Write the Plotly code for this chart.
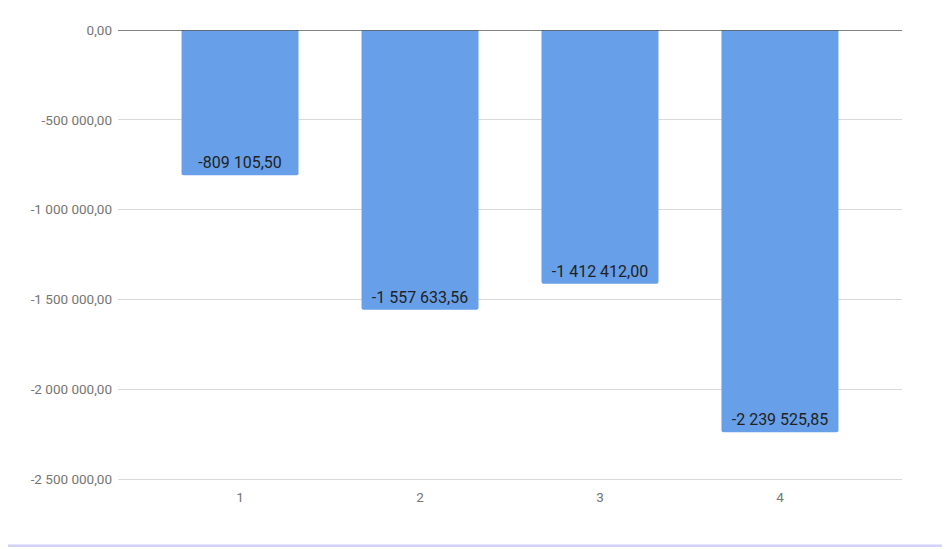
import plotly.graph_objects as go

categories = ["1", "2", "3", "4"]
values = [-809105.50, -1557633.56, -1412412.00, -2239525.85]
tick_vals = [0, -500000, -1000000, -1500000, -2000000, -2500000]
tick_text = ["0,00", "-500 000,00", "-1 000 000,00", "-1 500 000,00", "-2 000 000,00", "-2 500 000,00"]

W, H = 950, 549
OFF = 8  # page body margin
ML, MR, MT, MB = 110, 56, 22, 78
PW, PH = W - ML - MR, H - MT - MB


def px2paper(sx, sy):
    x, y = sx - OFF, sy - OFF
    return (x - ML) / PW, (H - MB - y) / PH


def rounded_rect(x0, y0, x1, y1, r):
    def P(x, y):
        px, py = px2paper(x, y)
        return f"{px:.5f},{py:.5f}"
    d = f"M {P(x0 + r, y0)} L {P(x1 - r, y0)} Q {P(x1, y0)} {P(x1, y0 + r)} "
    d += f"L {P(x1, y1 - r)} Q {P(x1, y1)} {P(x1 - r, y1)} "
    d += f"L {P(x0 + r, y1)} Q {P(x0, y1)} {P(x0, y1 - r)} "
    d += f"L {P(x0, y0 + r)} Q {P(x0, y0)} {P(x0 + r, y0)} Z"
    return d


fig = go.Figure()
fig.add_trace(go.Bar(
    x=[1, 2, 3, 4],
    y=values,
    width=0.65,
    marker=dict(color="#67a0e8", line=dict(width=0)),
    text=[f"{v:,.2f}".replace(",", " ").replace(".", ",") for v in values],
    textposition="inside",
    insidetextanchor="end",
    textfont=dict(family="Roboto", size=16, color="#222222"),
    textangle=0,
    hoverinfo="skip",
))

fig.add_shape(type="path", xref="paper", yref="paper",
              path=rounded_rect(1.5, -12, 946.5, 547, 7),
              fillcolor="#d2d2fa", line=dict(width=0), layer="below")
fig.add_shape(type="path", xref="paper", yref="paper",
              path=rounded_rect(1.5, -12, 945.5, 544.5, 6),
              fillcolor="white", line=dict(width=1, color="#e6e6fb"), layer="below")

fig.update_layout(
    width=W, height=H,
    margin=dict(l=ML, r=MR, t=MT, b=MB),
    paper_bgcolor="white",
    plot_bgcolor="rgba(0,0,0,0)",
    showlegend=False,
    barcornerradius=2,
    font=dict(family="Roboto", color="#757575", size=13.5),
    xaxis=dict(
        range=[0.322, 4.678],
        tickvals=[1, 2, 3, 4],
        ticktext=categories,
        showgrid=False,
        zeroline=False,
        showline=True,
        linecolor="#d9d9d9",
        linewidth=1,
        ticks="",
        ticklen=0,
        ticklabelstandoff=6,
        tickfont=dict(family="Roboto", size=13.5, color="#757575"),
    ),
    yaxis=dict(
        range=[-2500000, 0],
        tickvals=tick_vals,
        ticktext=tick_text,
        showgrid=True,
        gridcolor="#d9d9d9",
        gridwidth=1,
        zeroline=False,
        showline=False,
        ticks="",
        tickfont=dict(family="Roboto", size=13.5, color="#757575"),
        ticklabelstandoff=5,
    ),
)
fig.add_shape(type="line", xref="paper", yref="y", x0=0, x1=1, y0=0, y1=0,
              line=dict(color="#5a5a5a", width=1.3), layer="above")

fig.write_html("out.html")
